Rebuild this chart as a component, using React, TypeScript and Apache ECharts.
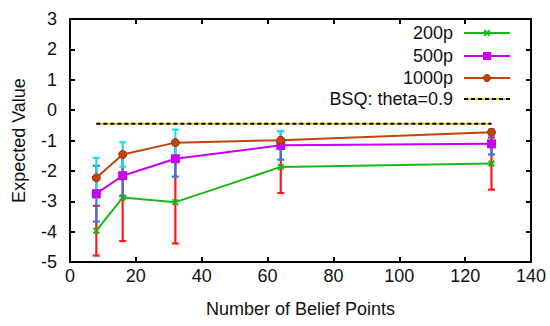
import React, { useEffect, useRef } from "react";
import * as echarts from "echarts";

const beliefPoints = [8, 16, 32, 64, 128];
const mean200 = [-3.97, -2.88, -3.03, -1.87, -1.76];
const err200 = [0.82, 1.43, 1.36, 0.86, 0.86];
const mean500 = [-2.75, -2.16, -1.6, -1.16, -1.11];
const err500 = [0.92, 0.67, 0.59, 0.47, 0.35];
const mean1000 = [-2.23, -1.46, -1.07, -0.99, -0.73];
const err1000 = [0.66, 0.4, 0.43, 0.3, 0.1];
const bsqX = [8, 128];
const bsqValue = -0.45;
const legendLabels = ["200p", "500p", "1000p", "BSQ: theta=0.9"];

const FONT = "'Liberation Sans', Arial, Helvetica, sans-serif";
const GREEN = "#19b819";
const MAGENTA = "#c800f0";
const ORANGE = "#c0440c";
const RED = "#ff1a1a";
const BLUE = "#3478e0";
const CYAN = "#20dbe8";
const YELLOW = "#d8cc00";

const XCROSS = "path://M0,2L2,0L5,3L8,0L10,2L7,5L10,8L8,10L5,7L2,10L0,8L3,5Z";

function errSeries(means: number[], errs: number[], color: string, z: number) {
  return {
    type: "custom",
    silent: true,
    z,
    data: beliefPoints.map((x, i) => [x, means[i] - errs[i], means[i] + errs[i]]),
    encode: { x: 0, y: [1, 2] },
    renderItem: (params: any, api: any) => {
      const x = api.value(0);
      const lo = api.coord([x, api.value(1)]);
      const hi = api.coord([x, api.value(2)]);
      const w = 3.5;
      const st = { stroke: color, lineWidth: 2.2 };
      return {
        type: "group",
        children: [
          { type: "line", shape: { x1: lo[0], y1: lo[1], x2: hi[0], y2: hi[1] }, style: st },
          { type: "line", shape: { x1: lo[0] - w, y1: lo[1], x2: lo[0] + w, y2: lo[1] }, style: st },
          { type: "line", shape: { x1: hi[0] - w, y1: hi[1], x2: hi[0] + w, y2: hi[1] }, style: st },
        ],
      };
    },
  };
}

function lineSeries(name: string, means: number[], color: string, symbol: string, size: number, z: number, border?: string) {
  return {
    type: "line",
    name,
    z,
    data: beliefPoints.map((x, i) => [x, means[i]]),
    symbol,
    symbolSize: size,
    showSymbol: true,
    lineStyle: { color, width: 2 },
    itemStyle: { color, borderColor: border || color, borderWidth: border ? 1 : 0, opacity: 1 },
  };
}

export default function App() {
  const ref = useRef<HTMLDivElement>(null);
  useEffect(() => {
    const chart = echarts.init(ref.current!, null, { renderer: "svg" });
    const axisCommon = {
      type: "value",
      axisLine: { show: true, onZero: false, lineStyle: { color: "#000", width: 2 } },
      axisTick: { show: true, inside: true, length: 5, lineStyle: { color: "#000", width: 2 } },
      splitLine: { show: false },
    };
    const FS = 18;
    const labelStyle = { color: "#111", fontSize: FS, fontFamily: FONT };
    const legendX = 453;
    const legendY = [33, 56, 78, 99];
    const lx1 = 464;
    const lx2 = 510;
    const lmid = (lx1 + lx2) / 2;
    const legendColors = [GREEN, MAGENTA, ORANGE, YELLOW];
    const graphics: any[] = [];
    legendLabels.forEach((t, i) => {
      graphics.push({
        type: "text",
        x: legendX,
        y: legendY[i],
        style: { text: t, align: "right", verticalAlign: "middle", fill: "#111", font: `${FS}px ${FONT}` },
      });
      graphics.push({
        type: "line",
        shape: { x1: lx1, y1: legendY[i], x2: lx2, y2: legendY[i] },
        style: { stroke: legendColors[i], lineWidth: 2 },
      });
    });
    graphics.push({
      type: "line",
      shape: { x1: lx1, y1: legendY[3], x2: lx2, y2: legendY[3] },
      style: { stroke: "#000", lineWidth: 2, lineDash: [4, 3] },
    });
    graphics.push({
      type: "polygon",
      shape: {
        points: [
          [0, 2], [2, 0], [5, 3], [8, 0], [10, 2], [7, 5], [10, 8], [8, 10], [5, 7], [2, 10], [0, 8], [3, 5],
        ].map((p) => [lmid - 3.5 + p[0] * 0.7, legendY[0] - 3.5 + p[1] * 0.7]),
      },
      style: { fill: GREEN },
    });
    graphics.push({
      type: "rect",
      shape: { x: lmid - 4, y: legendY[1] - 4, width: 8, height: 8 },
      style: { fill: MAGENTA },
    });
    graphics.push({
      type: "circle",
      shape: { cx: lmid, cy: legendY[2], r: 3.5 },
      style: { fill: ORANGE, stroke: "#a03000", lineWidth: 1 },
    });

    const option: any = {
      animation: false,
      backgroundColor: "#fff",
      grid: { left: 70, right: 19, top: 19, bottom: 64, containLabel: false },
      xAxis: [
        {
          ...axisCommon,
          position: "bottom",
          min: 0,
          max: 140,
          interval: 20,
          axisLabel: { ...labelStyle, margin: 5 },
          name: "Number of Belief Points",
          nameLocation: "middle",
          nameGap: 38,
          nameTextStyle: { color: "#111", fontSize: FS, fontFamily: FONT },
        },
        {
          ...axisCommon,
          position: "top",
          min: 0,
          max: 140,
          interval: 20,
          axisLabel: { show: false },
        },
      ],
      yAxis: [
        {
          ...axisCommon,
          position: "left",
          min: -5,
          max: 3,
          interval: 1,
          axisLabel: { ...labelStyle, margin: 13 },
          name: "Expected Value",
          nameLocation: "middle",
          nameGap: 42,
          nameTextStyle: { color: "#111", fontSize: FS, fontFamily: FONT },
        },
        {
          ...axisCommon,
          position: "right",
          min: -5,
          max: 3,
          interval: 1,
          axisLabel: { show: false },
        },
      ],
      series: [
        errSeries(mean200, err200, RED, 1),
        errSeries(mean500, err500, BLUE, 2),
        errSeries(mean1000, err1000, CYAN, 3),
        {
          type: "line",
          z: 4,
          data: bsqX.map((x) => [x, bsqValue]),
          symbol: "none",
          lineStyle: { color: YELLOW, width: 2 },
        },
        {
          type: "line",
          z: 5,
          data: bsqX.map((x) => [x, bsqValue]),
          symbol: "none",
          lineStyle: { color: "#000", width: 2, type: [4, 3] },
        },
        lineSeries("200p", mean200, GREEN, XCROSS, 7, 6),
        lineSeries("500p", mean500, MAGENTA, "rect", 9, 7),
        lineSeries("1000p", mean1000, ORANGE, "circle", 8, 8, "#a03000"),
      ],
      graphic: graphics,
    };
    chart.setOption(option);
    return () => chart.dispose();
  }, []);
  return (
    <div
      ref={ref}
      style={{ position: "absolute", left: 0, top: 0, width: 550, height: 326 }}
    />
  );
}
